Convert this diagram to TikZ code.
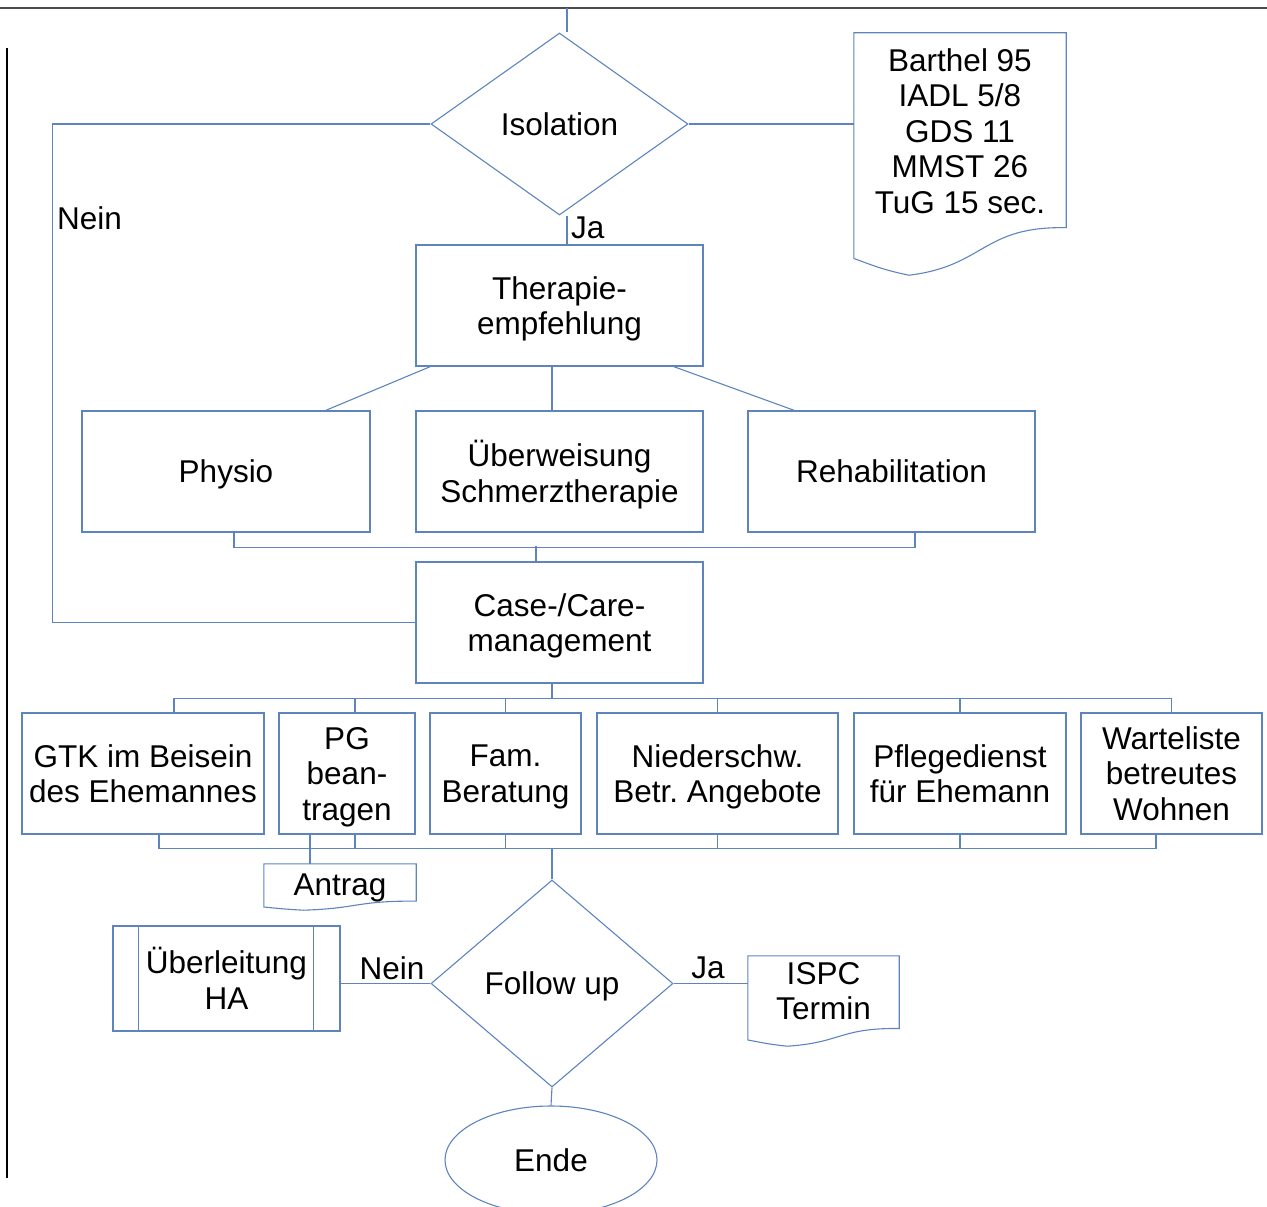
\documentclass[tikz,border=0pt]{standalone}
\usepackage{fontspec}
\setmainfont{Liberation Sans}
\usetikzlibrary{shapes.geometric,calc}
\definecolor{flowBlue}{RGB}{94,132,190}
\newcommand{\flowfont}{\fontsize{31.5}{35.5}\selectfont\frenchspacing}
\tikzset{
  flowln/.style={line width=1.1pt, flowBlue},
  procbox/.style={rectangle, draw=flowBlue, line width=1.1pt, inner sep=0pt, text depth=0pt, align=center, font=\flowfont},
  decision/.style={diamond, draw=flowBlue, line width=1.1pt, inner sep=0pt, text depth=0pt, align=center, font=\flowfont},
  docarea/.style={rectangle, inner sep=0pt},
  flowtxt/.style={inner sep=0pt, text depth=0pt, align=center, font=\flowfont},
}
% document symbol with wavy bottom, drawn round a named node
\newcommand{\docoutline}[1]{%
  \draw[flowln] let \p1=(#1.north west), \p2=(#1.south east),
      \n1={\x2-\x1}, \n2={\y1-\y2} in
    (\p1) -- (\x2,\y1) -- (\x2,{\y1-0.804*\n2})
    .. controls ({\x1+0.604*\n1},{\y1-0.797*\n2}) and ({\x1+0.618*\n1},{\y1-0.962*\n2}) .. ({\x1+0.26*\n1},\y2)
    .. controls ({\x1+0.132*\n1},{\y1-0.977*\n2}) and ({\x1+0.086*\n1},{\y1-0.958*\n2}) .. (\x1,{\y1-0.931*\n2}) -- cycle;
}

\begin{document}
\begin{tikzpicture}[x=1pt, y=-1pt]
  \useasboundingbox (0,0) rectangle (1267,1207);
  % page rules
  \draw[gray!60!black, line width=1.5pt] (0,8) -- (1267,8);
  \draw[black, line width=1.2pt] (7,48) -- (7,1178);
  \coordinate (pagetop) at (567,8);

  % decision and therapy branch
  \node[decision, minimum width=257pt, minimum height=182pt] (iso) at (559.5,124) {Isolation};
  \node[docarea, minimum width=212pt, minimum height=242pt] (bar) at (960,154) {};
  \docoutline{bar}
  \node[flowtxt] (bartxt) at ([yshift=23pt]bar.center) {Barthel 95\\IADL 5/8\\GDS 11\\MMST 26\\TuG 15 sec.};
  \node[procbox, minimum width=287pt, minimum height=121pt] (ther) at (559.5,305.5) {Therapie-\\empfehlung};
  \node[procbox, minimum width=288pt, minimum height=121pt] (phy) at (226,471.5) {Physio};
  \node[procbox, minimum width=287pt, minimum height=121pt] (ueb) at (559.5,471.5) {Überweisung\\Schmerztherapie};
  \node[procbox, minimum width=287pt, minimum height=121pt] (reh) at (891.5,471.5) {Rehabilitation};
  \node[procbox, minimum width=287pt, minimum height=121pt] (case) at (559.5,622.5) {Case-/Care-\\management};

  % measures
  \node[procbox, minimum width=242pt, minimum height=121pt] (gtk) at (143,773.5) {GTK im Beisein\\des Ehemannes};
  \node[procbox, minimum width=136pt, minimum height=121pt] (pg) at (347,773.5) {PG\\bean-\\tragen};
  \node[procbox, minimum width=151pt, minimum height=121pt] (fam) at (505.5,773.5) {Fam.\\Beratung};
  \node[procbox, minimum width=241pt, minimum height=121pt] (nie) at (717.5,773.5) {Niederschw.\\Betr. Angebote};
  \node[procbox, minimum width=212pt, minimum height=121pt] (pfl) at (960,773.5) {Pflegedienst\\für Ehemann};
  \node[procbox, minimum width=181pt, minimum height=121pt] (war) at (1171.5,773.5) {Warteliste\\betreutes\\Wohnen};
  \node[docarea, minimum width=152pt, minimum height=46pt] (ant) at (340,887) {};
  \docoutline{ant}
  \node[flowtxt] (anttxt) at ([yshift=2pt]ant.center) {Antrag};

  % follow up
  \node[decision, minimum width=242pt, minimum height=207pt] (fol) at (552,983.5) {Follow up};
  \node[procbox, minimum width=227pt, minimum height=105pt] (uel) at (226.5,978.5) {Überleitung\\HA};
  \draw[flowln] ([xshift=26pt]uel.north west) -- ([xshift=26pt]uel.south west);
  \draw[flowln] ([xshift=-27pt]uel.north east) -- ([xshift=-27pt]uel.south east);
  \node[docarea, minimum width=151pt, minimum height=90pt] (isp) at (823.5,1001) {};
  \docoutline{isp}
  \node[flowtxt] (isptxt) at ([yshift=10pt]isp.center) {ISPC\\Termin};
  \node[ellipse, draw=flowBlue, line width=1.1pt, inner sep=0pt, minimum width=212pt, minimum height=108pt, font=\flowfont] (ende) at (551,1160) {Ende};

  % connectors
  \draw[flowln] (pagetop) -- (pagetop |- iso.north);
  \draw[flowln] (iso.west) -- ++(-378,0) |- (case.west);
  \node[flowtxt, anchor=west] (neinA) at (57,218) {Nein};
  \draw[flowln] (iso.east) -- (iso.east -| bar.west);
  \draw[flowln] (iso.south -| pagetop) -- (ther.north -| pagetop);
  \node[flowtxt, anchor=west] (jaA) at (571,228) {Ja};
  \draw[flowln] ([xshift=15pt]ther.south west) -- ([xshift=-45pt]phy.north east);
  \draw[flowln] ([xshift=-7.5pt]ther.south) -- ([xshift=-7.5pt]ueb.north);
  \draw[flowln] ([xshift=-30pt]ther.south east) -- ([xshift=47pt]reh.north west);
  \draw[flowln] ([xshift=8pt]phy.south) -- ++(0,15) -| ([xshift=23.5pt]reh.south);
  \draw[flowln] ([xshift=-23.5pt]case.north) -- ++(0,-15);

  \coordinate (fanA) at ($(case.south)+(-7.5,15)$);
  \draw[flowln] (case.south -| fanA) -- (fanA);
  \foreach \n/\dx in {gtk/31,pg/8,fam/0,nie/0,pfl/0,war/0}
    \draw[flowln] ([xshift=\dx pt]\n.north) |- (fanA);
  \coordinate (fanB) at ($(fol.north)+(0,-31)$);
  \draw[flowln] (fol.north) -- (fanB);
  \foreach \n/\dx in {gtk/16,pg/8,fam/0,nie/0,pfl/0,war/-15.5}
    \draw[flowln] ([xshift=\dx pt]\n.south) |- (fanB);
  \draw[flowln] ([xshift=-37pt]pg.south) -- ([xshift=-37pt]pg.south |- ant.north);

  \draw[flowln] (fol.west) -- (fol.west -| uel.east);
  \node[flowtxt] (neinB) at (392,968) {Nein};
  \draw[flowln] (fol.east) -- (fol.east -| isp.west);
  \node[flowtxt] (jaB) at (708,968) {Ja};
  \draw[flowln] (fol.south) -- (ende.north);
\end{tikzpicture}
\end{document}
